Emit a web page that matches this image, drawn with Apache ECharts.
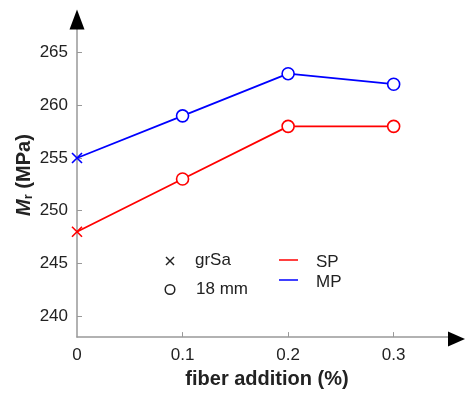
<!DOCTYPE html>
<html><head><meta charset="utf-8">
<script src="https://cdn.jsdelivr.net/npm/echarts@6/dist/echarts.min.js"></script>
<style>html,body{margin:0;padding:0;background:#fff}#c{width:465px;height:394px}</style>
</head><body><div id="c"></div>
<script>
const fiberAddition = [0, 0.1, 0.2, 0.3];
const spValues = [248, 253, 258, 258];
const mpValues = [255, 259, 263, 262];
const pointType = ['grSa', '18 mm', '18 mm', '18 mm'];
const xTickValues = [0.1, 0.2, 0.3];
const xLabelValues = [0, 0.1, 0.2, 0.3];
const yTickValues = [240, 245, 250, 255, 260, 265];

const CROSS = 'path://M0,0L10,10M10,0L0,10';
const FONT = 'Liberation Sans';
const RED = '#ff0000', BLUE = '#0000ff', AXIS = '#999';

function buildData(vals, color) {
  return fiberAddition.map((x, i) => ({
    value: [x, vals[i]],
    symbol: pointType[i] === 'grSa' ? CROSS : 'circle',
    symbolSize: pointType[i] === 'grSa' ? 10 : 12,
    itemStyle: { color: '#fff', borderColor: color, borderWidth: 1.6 }
  }));
}

const chart = echarts.init(document.getElementById('c'));
chart.setOption({
  animation: false,
  backgroundColor: '#fff',
  grid: { left: 77, top: 21, width: 380, height: 317, containLabel: false },
  xAxis: {
    type: 'value', min: 0, max: 0.36,
    name: 'fiber addition (%)', nameLocation: 'middle', nameGap: 30,
    nameTextStyle: { fontFamily: FONT, fontSize: 20, fontWeight: 'bold', color: '#222' },
    axisLine: { show: true, lineStyle: { color: AXIS, width: 1.5 } },
    axisTick: { show: true, inside: true, length: 5, customValues: xTickValues, lineStyle: { color: AXIS } },
    axisLabel: { customValues: xLabelValues, margin: 10, fontFamily: FONT, fontSize: 17, color: '#222',
      formatter: v => (v === 0 ? '0' : String(Math.round(v * 10) / 10)) },
    splitLine: { show: false }
  },
  yAxis: {
    type: 'value', min: 238, max: 268,
    name: '{m|M}{r|r}{n| (MPa)}', nameLocation: 'middle', nameGap: 42, nameRotate: 90,
    nameMoveOverlap: false,
    nameTextStyle: {
      fontFamily: FONT, color: '#222',
      rich: {
        m: { fontFamily: FONT, fontSize: 20, fontWeight: 'bold', fontStyle: 'italic', color: '#222', padding: [0, 0, 0, 8] },
        r: { fontFamily: FONT, fontSize: 13, fontWeight: 'bold', color: '#222', padding: [8, 0, 0, 0] },
        n: { fontFamily: FONT, fontSize: 20, fontWeight: 'bold', color: '#222' }
      }
    },
    axisLine: { show: true, lineStyle: { color: AXIS, width: 1.5 } },
    axisTick: { show: true, inside: true, length: 5, customValues: yTickValues, lineStyle: { color: AXIS } },
    axisLabel: { customValues: yTickValues, margin: 9, fontFamily: FONT, fontSize: 17, color: '#222' },
    splitLine: { show: false }
  },
  series: [
    { name: 'SP', type: 'line', data: buildData(spValues, RED), lineStyle: { color: RED, width: 1.8 }, z: 3 },
    { name: 'MP', type: 'line', data: buildData(mpValues, BLUE), lineStyle: { color: BLUE, width: 1.8 }, z: 3 }
  ],
  graphic: [
    { type: 'polygon', shape: { points: [[69.5, 29.5], [84.5, 29.5], [77, 9.5]] }, style: { fill: '#000' }, z: 10 },
    { type: 'polygon', shape: { points: [[448, 331.5], [448, 346.5], [465, 339]] }, style: { fill: '#000' }, z: 10 },
    { type: 'line', shape: { x1: 166, y1: 257, x2: 174, y2: 265 }, style: { stroke: '#222', lineWidth: 1.5 } },
    { type: 'line', shape: { x1: 174, y1: 257, x2: 166, y2: 265 }, style: { stroke: '#222', lineWidth: 1.5 } },
    { type: 'text', left: 195, top: 252, style: { text: 'grSa', fontFamily: FONT, fontSize: 17, fill: '#222' } },
    { type: 'circle', shape: { cx: 170, cy: 289.5, r: 4.8 }, style: { stroke: '#222', lineWidth: 1.5, fill: 'none' } },
    { type: 'text', left: 196, top: 280.5, style: { text: '18 mm', fontFamily: FONT, fontSize: 17, fill: '#222' } },
    { type: 'line', shape: { x1: 279, y1: 260, x2: 298, y2: 260 }, style: { stroke: RED, lineWidth: 1.5 } },
    { type: 'line', shape: { x1: 279, y1: 280, x2: 298, y2: 280 }, style: { stroke: BLUE, lineWidth: 1.5 } },
    { type: 'text', left: 316, top: 254, style: { text: 'SP', fontFamily: FONT, fontSize: 17, fill: '#222' } },
    { type: 'text', left: 316, top: 273.5, style: { text: 'MP', fontFamily: FONT, fontSize: 17, fill: '#222' } }
  ]
});
</script>
</body></html>
